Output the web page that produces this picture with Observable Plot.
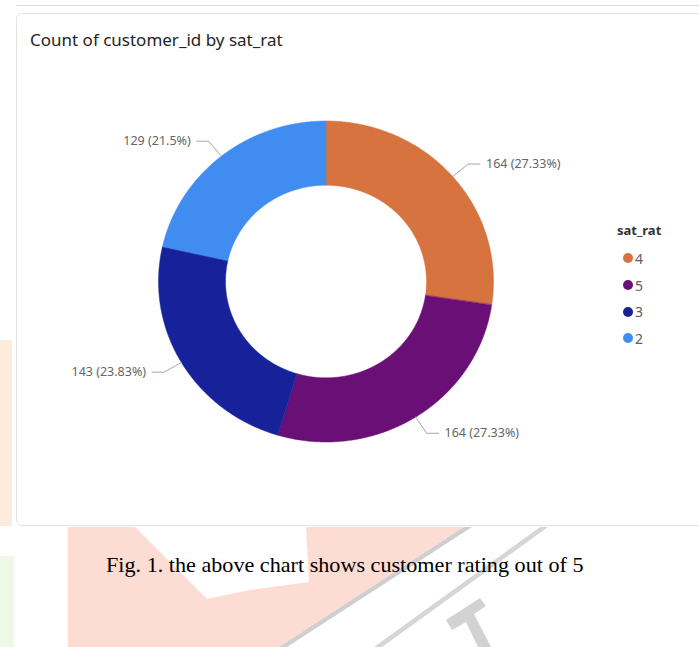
<!DOCTYPE html>
<html>
<head>
<meta charset="utf-8">
<script src="https://cdn.jsdelivr.net/npm/d3@7"></script>
<script src="https://cdn.jsdelivr.net/npm/@observablehq/plot@0.6"></script>
<style>
  html, body { margin: 0; padding: 0; background: #fff; }
  body { width: 699px; height: 647px; position: relative; overflow: hidden; font-family: "Noto Sans", sans-serif; }
  .abs { position: absolute; }
  #topline { left: 16px; top: 5px; width: 700px; height: 1px; background: #dcdcdc; }
  #card { left: 16px; top: 13px; width: 700px; height: 511px; border: 1px solid #e2e2e2; border-radius: 6px; background: #fff; }
  #title { left: 30px; top: 30px; font-size: 17px; line-height: 20px; color: #252423; white-space: nowrap; }
  #chart { left: 0; top: 0; }
  #legend { left: 617px; top: 221px; font-size: 14px; color: #605E5C; }
  #legend .lt { font-weight: bold; color: #333; font-size: 13px; line-height: 18px; margin-bottom: 6px; }
  #legend .it { height: 26.7px; display: flex; align-items: center; position: relative; left: 6px; }
  #legend .sw { width: 10px; height: 10px; border-radius: 50%; margin-right: 2px; }
  #caption { left: 106px; top: 553px; font-family: "Liberation Serif", "Times New Roman", serif; font-size: 21px; line-height: 24px; color: #000; white-space: nowrap; transform: scaleX(1.055); transform-origin: left center; }
</style>
</head>
<body>
<svg class="abs" style="left:0;top:0" width="699" height="647">
  <rect x="0" y="340" width="12" height="186" fill="#FDEBDD"/>
  <rect x="0" y="556" width="14" height="91" fill="#EEF8E6"/>
  <polygon points="68,527 464,527 279,647 68,647" fill="#FDDCD3"/>
  <polygon points="135,527 306,527 309,582 250,590 207,599" fill="#fff"/>
  <polygon points="464,527 472,527 287,647 279,647" fill="#CFCFCF"/>
  <polygon points="540,527 548,527 382,647 374,647" fill="#D6D6D6"/>
  <polygon points="446,620 480,598 486,606 474,614 491,647 478,647 466,622 452,630" fill="#D2D2D2"/>
</svg>
<div id="topline" class="abs"></div>
<div id="card" class="abs"></div>
<div id="title" class="abs"></div>
<div id="chart" class="abs"></div>
<div id="legend" class="abs"></div>
<div id="caption" class="abs"></div>
<script>
// ---- data ----
const titleText = "Count of customer_id by sat_rat";
const legendTitle = "sat_rat";
const captionText = "Fig. 1. the above chart shows customer rating out of 5";
const ratings = ["4", "5", "3", "2"];
const counts = [164, 164, 143, 129];
const labels = ["164 (27.33%)", "164 (27.33%)", "143 (23.83%)", "129 (21.5%)"];
const colors = ["#D6733F", "#6A0F76", "#17229A", "#408CF1"];

// ---- geometry (unit circle, ellipse via scales) ----
const W = 699, H = 530;
const cx = 325.5, cy = 281, rx = 167.5, ry = 160.5;
const inner = 0.6;
const total = d3.sum(counts);
const slices = [];
let acc = 0;
ratings.forEach((r, i) => {
  const a0 = acc / total * 2 * Math.PI;
  acc += counts[i];
  const a1 = acc / total * 2 * Math.PI;
  slices.push({rating: r, count: counts[i], label: labels[i], a0, a1, mid: (a0 + a1) / 2});
});
const pt = (a, r) => [Math.sin(a) * r, Math.cos(a) * r];

const poly = [];
for (const s of slices) {
  const n = Math.max(2, Math.ceil((s.a1 - s.a0) / (Math.PI / 360)));
  for (let k = 0; k <= n; k++) {
    const a = s.a0 + (s.a1 - s.a0) * k / n;
    const [x, y] = pt(a, 1);
    poly.push({rating: s.rating, x, y});
  }
  for (let k = n; k >= 0; k--) {
    const a = s.a0 + (s.a1 - s.a0) * k / n;
    const [x, y] = pt(a, inner);
    poly.push({rating: s.rating, x, y});
  }
}

const leaders = [];
const texts = [];
for (const s of slices) {
  const side = Math.sin(s.mid) >= 0 ? 1 : -1;
  const [x0, y0] = pt(s.mid, 1);
  const [x1, y1] = pt(s.mid, 1.12);
  const x2 = x1 + side * 12 / rx;
  leaders.push({rating: s.rating, x: x0, y: y0});
  leaders.push({rating: s.rating, x: x1, y: y1});
  leaders.push({rating: s.rating, x: x2, y: y1});
  texts.push({label: s.label, x: x2, y: y1, side});
}

const chart = Plot.plot({
  width: W,
  height: H,
  margin: 0,
  style: {background: "transparent", fontFamily: "Noto Sans, sans-serif"},
  x: {domain: [-cx / rx, (W - cx) / rx], axis: null},
  y: {domain: [-(H - cy) / ry, cy / ry], axis: null},
  color: {domain: ratings, range: colors},
  marks: [
    Plot.line(poly, {x: "x", y: "y", z: "rating", fill: "rating", stroke: "rating", strokeWidth: 0.5, curve: "linear-closed"}),
    Plot.line(leaders, {x: "x", y: "y", z: "rating", stroke: "#A6A6A6", strokeWidth: 1}),
    Plot.text(texts.filter(d => d.side > 0), {x: "x", y: "y", text: "label", dx: 6, textAnchor: "start", fill: "#666666", fontSize: 12.5}),
    Plot.text(texts.filter(d => d.side < 0), {x: "x", y: "y", text: "label", dx: -6, textAnchor: "end", fill: "#666666", fontSize: 12.5})
  ]
});
document.getElementById("chart").appendChild(chart);

document.getElementById("title").textContent = titleText;
document.getElementById("caption").textContent = captionText;

const lg = document.getElementById("legend");
const lt = document.createElement("div");
lt.className = "lt";
lt.textContent = legendTitle;
lg.appendChild(lt);
ratings.forEach((r, i) => {
  const it = document.createElement("div");
  it.className = "it";
  const sw = document.createElement("span");
  sw.className = "sw";
  sw.style.background = colors[i];
  const tx = document.createElement("span");
  tx.textContent = r;
  it.appendChild(sw);
  it.appendChild(tx);
  lg.appendChild(it);
});
</script>
</body>
</html>
